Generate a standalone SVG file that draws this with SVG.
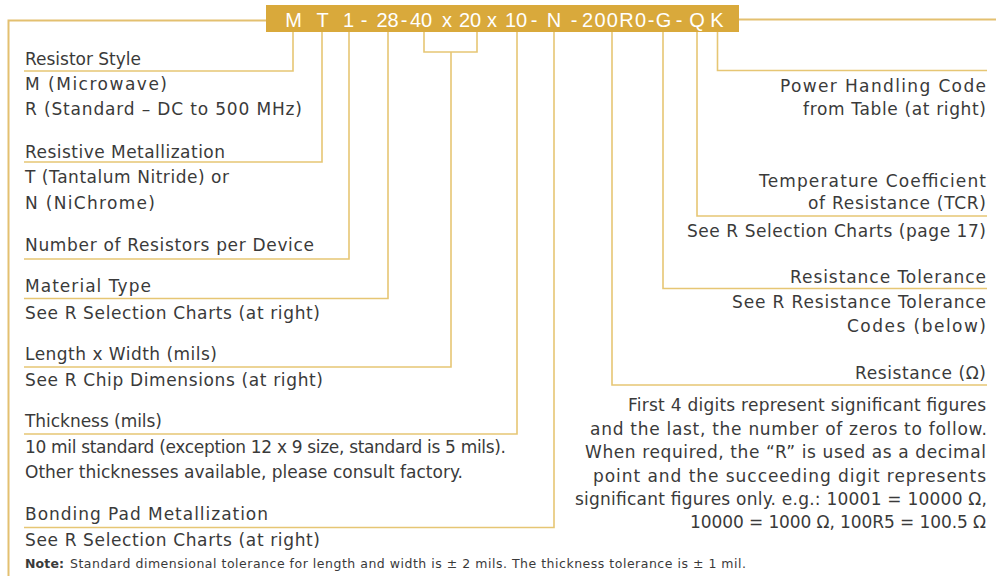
<svg xmlns="http://www.w3.org/2000/svg" width="996" height="576" viewBox="0 0 996 576">
  <style>
    .bg { fill: #ffffff; }
    .band { fill: #d9a93b; }
    .code { font-family: "Liberation Sans", Arial, sans-serif; font-size: 20px; fill: #ffffff; text-anchor: middle; }
    .lbl { font-family: "DejaVu Sans", "Liberation Sans", sans-serif; font-size: 17px; fill: #3a3a3a; }
    .r { text-anchor: end; }
    .note { font-family: "DejaVu Sans", "Liberation Sans", sans-serif; font-size: 12.5px; fill: #3a3a3a; }
    .wire { fill: none; stroke: #e6c674; stroke-width: 1.6; }
    .frame { fill: none; stroke: #e3c070; stroke-width: 2; }
  </style>

  <rect class="bg" x="0" y="0" width="996" height="576"/>

  <!-- part number band -->
  <g id="part-number">
    <rect class="band" x="266" y="5" width="473" height="27"/>
    <text class="code" x="293.5" y="27">M</text>
    <text class="code" x="322.5" y="27">T</text>
    <text class="code" x="348.5" y="27">1</text>
    <text class="code" x="364" y="27">-</text>
    <text class="code" x="387.5" y="27">28</text>
    <text class="code" x="404" y="27">-</text>
    <text class="code" x="421" y="27">40</text>
    <text class="code" x="447" y="27">x</text>
    <text class="code" x="470" y="27">20</text>
    <text class="code" x="492" y="27">x</text>
    <text class="code" x="516" y="27">10</text>
    <text class="code" x="534" y="27">-</text>
    <text class="code" x="554" y="27">N</text>
    <text class="code" x="574" y="27">-</text>
    <text class="code" x="614" y="27" textLength="64" lengthAdjust="spacing">200R0</text>
    <text class="code" x="651" y="27">-</text>
    <text class="code" x="663.5" y="27">G</text>
    <text class="code" x="679" y="27">-</text>
    <text class="code" x="697" y="27">Q</text>
    <text class="code" x="717" y="27">K</text>
  </g>

  <!-- leader lines from each code position -->
  <g id="connectors">
    <path class="frame" d="M266 20.5 H8.5 V576"/>
    <path class="frame" d="M739 19.5 H996"/>
    <path class="wire" d="M293 32 V71 H24"/>
    <path class="wire" d="M322 32 V162 H24"/>
    <path class="wire" d="M349 32 V259 H24"/>
    <path class="wire" d="M388 32 V298.5 H24"/>
    <path class="wire" d="M424 32 V52 H477 V32 M451 52 V367 H24"/>
    <path class="wire" d="M517 32 V434 H24"/>
    <path class="wire" d="M554 32 V527.5 H24"/>
    <path class="wire" d="M717.5 32 V70.5 H987"/>
    <path class="wire" d="M697 32 V216 H987"/>
    <path class="wire" d="M663 32 V288.5 H987"/>
    <path class="wire" d="M612 32 V385 H987"/>
  </g>

  <g id="resistor-style">
    <text class="lbl" x="25" y="65" textLength="116" lengthAdjust="spacing">Resistor Style</text>
    <text class="lbl" x="25" y="90" textLength="142" lengthAdjust="spacing">M (Microwave)</text>
    <text class="lbl" x="25" y="115" textLength="277" lengthAdjust="spacing">R (Standard – DC to 500 MHz)</text>
  </g>

  <g id="resistive-metallization">
    <text class="lbl" x="25" y="158" textLength="200" lengthAdjust="spacing">Resistive Metallization</text>
    <text class="lbl" x="25" y="183" textLength="204" lengthAdjust="spacing">T (Tantalum Nitride) or</text>
    <text class="lbl" x="25" y="209" textLength="130" lengthAdjust="spacing">N (NiChrome)</text>
  </g>

  <g id="resistor-count">
    <text class="lbl" x="25" y="251" textLength="289" lengthAdjust="spacing">Number of Resistors per Device</text>
  </g>

  <g id="material-type">
    <text class="lbl" x="25" y="292" textLength="126" lengthAdjust="spacing">Material Type</text>
    <text class="lbl" x="25" y="319" textLength="295" lengthAdjust="spacing">See R Selection Charts (at right)</text>
  </g>

  <g id="length-width">
    <text class="lbl" x="25" y="360" textLength="192" lengthAdjust="spacing">Length x Width (mils)</text>
    <text class="lbl" x="25" y="386" textLength="298" lengthAdjust="spacing">See R Chip Dimensions (at right)</text>
  </g>

  <g id="thickness">
    <text class="lbl" x="25" y="427" textLength="137" lengthAdjust="spacing">Thickness (mils)</text>
    <text class="lbl" x="25" y="453" textLength="481" lengthAdjust="spacing">10 mil standard (exception 12 x 9 size, standard is 5 mils).</text>
    <text class="lbl" x="25" y="478" textLength="438" lengthAdjust="spacing">Other thicknesses available, please consult factory.</text>
  </g>

  <g id="bonding-pad">
    <text class="lbl" x="25" y="520" textLength="243" lengthAdjust="spacing">Bonding Pad Metallization</text>
    <text class="lbl" x="25" y="546" textLength="295" lengthAdjust="spacing">See R Selection Charts (at right)</text>
  </g>

  <g id="power-handling">
    <text class="lbl r" x="986" y="92" textLength="206" lengthAdjust="spacing">Power Handling Code</text>
    <text class="lbl r" x="986" y="115" textLength="183" lengthAdjust="spacing">from Table (at right)</text>
  </g>

  <g id="tcr">
    <text class="lbl r" x="986" y="187" textLength="227" lengthAdjust="spacing">Temperature Coefficient</text>
    <text class="lbl r" x="986" y="209" textLength="178" lengthAdjust="spacing">of Resistance (TCR)</text>
    <text class="lbl r" x="986" y="237" textLength="299" lengthAdjust="spacing">See R Selection Charts (page 17)</text>
  </g>

  <g id="tolerance">
    <text class="lbl r" x="986" y="283" textLength="196" lengthAdjust="spacing">Resistance Tolerance</text>
    <text class="lbl r" x="986" y="308" textLength="254" lengthAdjust="spacing">See R Resistance Tolerance</text>
    <text class="lbl r" x="986" y="332" textLength="139" lengthAdjust="spacing">Codes (below)</text>
  </g>

  <g id="resistance">
    <text class="lbl r" x="986" y="379" textLength="131" lengthAdjust="spacing">Resistance (Ω)</text>
    <text class="lbl r" x="986" y="411" textLength="358" lengthAdjust="spacing">First 4 digits represent significant figures</text>
    <text class="lbl r" x="987" y="435" textLength="397" lengthAdjust="spacing">and the last, the number of zeros to follow.</text>
    <text class="lbl r" x="986" y="458" textLength="401" lengthAdjust="spacing">When required, the “R” is used as a decimal</text>
    <text class="lbl r" x="986" y="482" textLength="393" lengthAdjust="spacing">point and the succeeding digit represents</text>
    <text class="lbl r" x="987" y="505" textLength="412" lengthAdjust="spacing">significant figures only. e.g.: 10001 = 10000 Ω,</text>
    <text class="lbl r" x="986" y="528" textLength="296" lengthAdjust="spacing">10000 = 1000 Ω, 100R5 = 100.5 Ω</text>
  </g>

  <g id="note">
    <text class="note" x="25" y="568" font-weight="bold" textLength="39" lengthAdjust="spacing">Note:</text>
    <text class="note" x="70" y="568" textLength="676" lengthAdjust="spacing">Standard dimensional tolerance for length and width is ± 2 mils.  The thickness tolerance is ± 1 mil.</text>
  </g>
</svg>
